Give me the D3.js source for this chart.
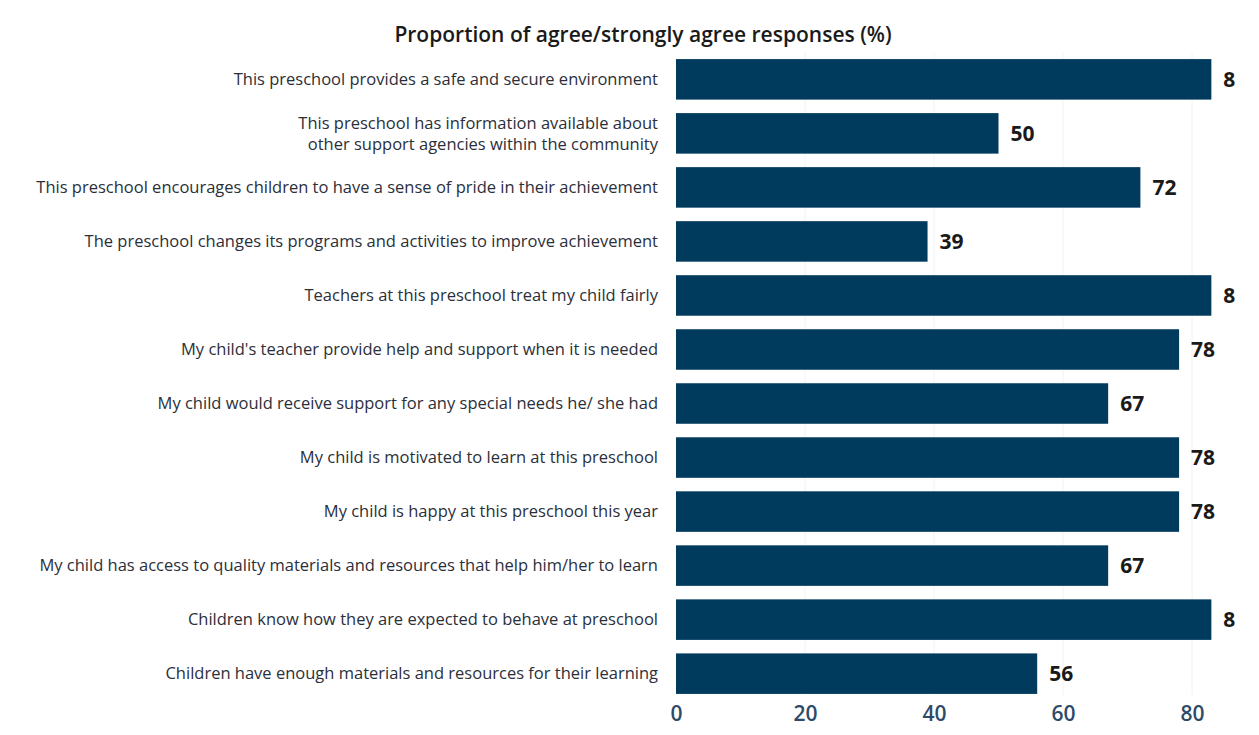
<!DOCTYPE html>
<html>
<head>
<meta charset="utf-8">
<script src="https://cdn.jsdelivr.net/npm/d3@7"></script>
<style>
  body { margin: 0; background: #fff; }
  text { font-family: "Open Sans", "DejaVu Sans", sans-serif; }
</style>
</head>
<body>
<script>
// categories, top to bottom
const statements = [
  "This preschool provides a safe and secure environment",
  "This preschool has information available about|other support agencies within the community",
  "This preschool encourages children to have a sense of pride in their achievement",
  "The preschool changes its programs and activities to improve achievement",
  "Teachers at this preschool treat my child fairly",
  "My child's teacher provide help and support when it is needed",
  "My child would receive support for any special needs he/ she had",
  "My child is motivated to learn at this preschool",
  "My child is happy at this preschool this year",
  "My child has access to quality materials and resources that help him/her to learn",
  "Children know how they are expected to behave at preschool",
  "Children have enough materials and resources for their learning"
];
const agreePct = [83, 50, 72, 39, 83, 78, 67, 78, 78, 67, 83, 56];
// value labels as printed (some are cut off in the source)
const valueLabels = ["8", "50", "72", "39", "8", "78", "67", "78", "78", "67", "8", "56"];
const xTicks = [0, 20, 40, 60, 80];

const W = 1259, H = 735;
const margin = {top: 58, left: 676, right: 60, bottom: 45};

const svg = d3.select("body").append("svg")
  .attr("width", W).attr("height", H);

const x = d3.scaleLinear().domain([0, 80]).range([margin.left, margin.left + 516]);
const y = d3.scaleBand().domain(statements)
  .range([margin.top, 695]).paddingInner(0.25).paddingOuter(0.02);

svg.append("text")
  .attr("x", 643).attr("y", 42)
  .attr("text-anchor", "middle")
  .attr("font-size", 21).attr("font-weight", 600)
  .attr("fill", "#1a1a1a")
  .text("Proportion of agree/strongly agree responses (%)");

// faint gridlines
svg.append("g").selectAll("line").data(xTicks.slice(1)).join("line")
  .attr("x1", d => x(d)).attr("x2", d => x(d))
  .attr("y1", margin.top - 5).attr("y2", 695)
  .attr("stroke", "#f2f2f2");

svg.append("g").selectAll("rect").data(statements).join("rect")
  .attr("x", x(0))
  .attr("y", d => y(d))
  .attr("width", (d, i) => x(agreePct[i]) - x(0))
  .attr("height", y.bandwidth())
  .attr("fill", "#003a5c");

svg.append("g").selectAll("text").data(statements).join("text")
  .attr("x", (d, i) => x(agreePct[i]) + 12)
  .attr("y", d => y(d) + y.bandwidth() / 2)
  .attr("dy", "0.35em")
  .attr("font-size", 21).attr("font-weight", 700)
  .attr("fill", "#1a1a1a")
  .text((d, i) => valueLabels[i]);

// category labels
const labels = svg.append("g").selectAll("text").data(statements).join("text")
  .attr("x", x(0) - 18)
  .attr("y", d => y(d) + y.bandwidth() / 2)
  .attr("text-anchor", "end")
  .attr("font-size", 16.5)
  .attr("fill", "#2b2f3a");
labels.each(function(d) {
  const lines = d.split("|");
  const t = d3.select(this);
  lines.forEach((s, k) => {
    t.append("tspan")
      .attr("x", x(0) - 18)
      .attr("dy", k === 0 ? (0.35 - (lines.length - 1) * 0.64) + "em" : "1.28em")
      .text(s);
  });
});

// x axis
const xAxis = svg.append("g")
  .attr("transform", `translate(0, 700)`)
  .call(d3.axisBottom(x).tickValues(xTicks).tickSize(0).tickPadding(6));
xAxis.select(".domain").remove();
xAxis.selectAll("text")
  .attr("font-size", 21).attr("font-weight", 600)
  .attr("fill", "#2e4a68")
  .style("font-family", "'Open Sans', sans-serif");
</script>
</body>
</html>
